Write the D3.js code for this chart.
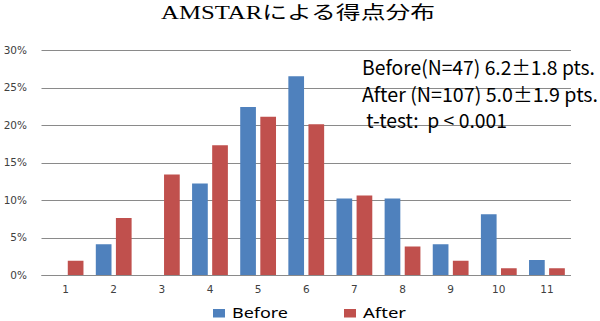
<!DOCTYPE html>
<html>
<head>
<meta charset="utf-8">
<script src="https://cdn.jsdelivr.net/npm/d3@7"></script>
<style>
html,body{margin:0;padding:0;background:#fff;}
svg{display:block;}
</style>
</head>
<body>
<svg id="chart" width="600" height="321"></svg>
<script>
const categories = ["1","2","3","4","5","6","7","8","9","10","11"];
const before = [0, 4.1, 0, 12.2, 22.4, 26.5, 10.2, 10.2, 4.1, 8.1, 2.0];
const after  = [1.9, 7.6, 13.4, 17.3, 21.1, 20.1, 10.6, 3.8, 1.9, 0.9, 0.9];
const yTicks = [0, 5, 10, 15, 20, 25, 30];
const seriesNames = ["Before", "After"];
const colors = ["#4F81BD", "#C0504D"];
const title = "AMSTARによる得点分布";
const notes = ["Before(N=47) 6.2±1.8 pts.", "After (N=107) 5.0±1.9 pts.", " t-test:  p < 0.001"];

const svg = d3.select("#chart");
const x = d3.scaleBand().domain(categories).range([41.5, 571]);
const y = d3.scaleLinear().domain([0, 30]).range([275, 50]);

// title
svg.append("text").attr("x", 161).attr("y", 18.5)
  .attr("font-family", "'Liberation Serif','Noto Sans CJK JP',serif")
  .attr("font-size", 18.5).attr("fill", "#000")
  .attr("textLength", 274).attr("lengthAdjust", "spacingAndGlyphs")
  .text(title);

// gridlines
svg.append("g").selectAll("line").data(yTicks).join("line")
  .attr("x1", 41.5).attr("x2", 571)
  .attr("y1", d => Math.round(y(d)) + 0.5).attr("y2", d => Math.round(y(d)) + 0.5)
  .attr("stroke", "#8a8a8a").attr("stroke-width", 1);

// y labels
svg.append("g").selectAll("text").data(yTicks).join("text")
  .attr("x", 27).attr("y", d => y(d) + 3.8)
  .attr("text-anchor", "end")
  .attr("font-family", "'DejaVu Sans',sans-serif").attr("font-size", 10.5)
  .attr("fill", "#404040")
  .text(d => d + "%");

// bars
const barW = 15.7, gap = 4.4;
[before, after].forEach((vals, si) => {
  svg.append("g").selectAll("rect").data(vals.map((v, i) => ({v, c: categories[i]}))).join("rect")
    .attr("x", d => x(d.c) + x.bandwidth() / 2 + (si === 0 ? -gap / 2 - barW : gap / 2))
    .attr("width", barW)
    .attr("y", d => y(d.v))
    .attr("height", d => y(0) - y(d.v))
    .attr("fill", colors[si]);
});

// x axis line
svg.append("line").attr("x1", 41.5).attr("x2", 571).attr("y1", 275.5).attr("y2", 275.5)
  .attr("stroke", "#8a8a8a");

// x labels
svg.append("g").selectAll("text").data(categories).join("text")
  .attr("x", d => x(d) + x.bandwidth() / 2).attr("y", 292.5)
  .attr("text-anchor", "middle")
  .attr("font-family", "'DejaVu Sans',sans-serif").attr("font-size", 10.5)
  .attr("fill", "#404040")
  .text(d => d);

// notes
const noteX = [362, 362, 362];
const noteW = [233, 236, 145];
svg.append("g").selectAll("text").data(notes).join("text")
  .attr("x", (d, i) => noteX[i]).attr("y", (d, i) => 75 + i * 26.5)
  .attr("font-family", "'Noto Sans CJK JP','Noto Sans',sans-serif").attr("font-size", 19.5)
  .attr("fill", "#000")
  .attr("xml:space", "preserve").style("white-space", "pre")
  .attr("textLength", (d, i) => noteW[i]).attr("lengthAdjust", "spacingAndGlyphs")
  .text(d => d);

// legend
const legX = [213, 344];
const legW = [56, 43];
const leg = svg.append("g").selectAll("g").data(seriesNames).join("g");
leg.append("rect").attr("x", (d, i) => legX[i]).attr("y", 309).attr("width", 12).attr("height", 8.5)
  .attr("fill", (d, i) => colors[i]);
leg.append("text").attr("x", (d, i) => legX[i] + 19).attr("y", 318)
  .attr("font-family", "'Noto Sans',sans-serif").attr("font-size", 14)
  .attr("fill", "#000")
  .attr("textLength", (d, i) => legW[i]).attr("lengthAdjust", "spacingAndGlyphs")
  .text(d => d);
</script>
</body>
</html>
